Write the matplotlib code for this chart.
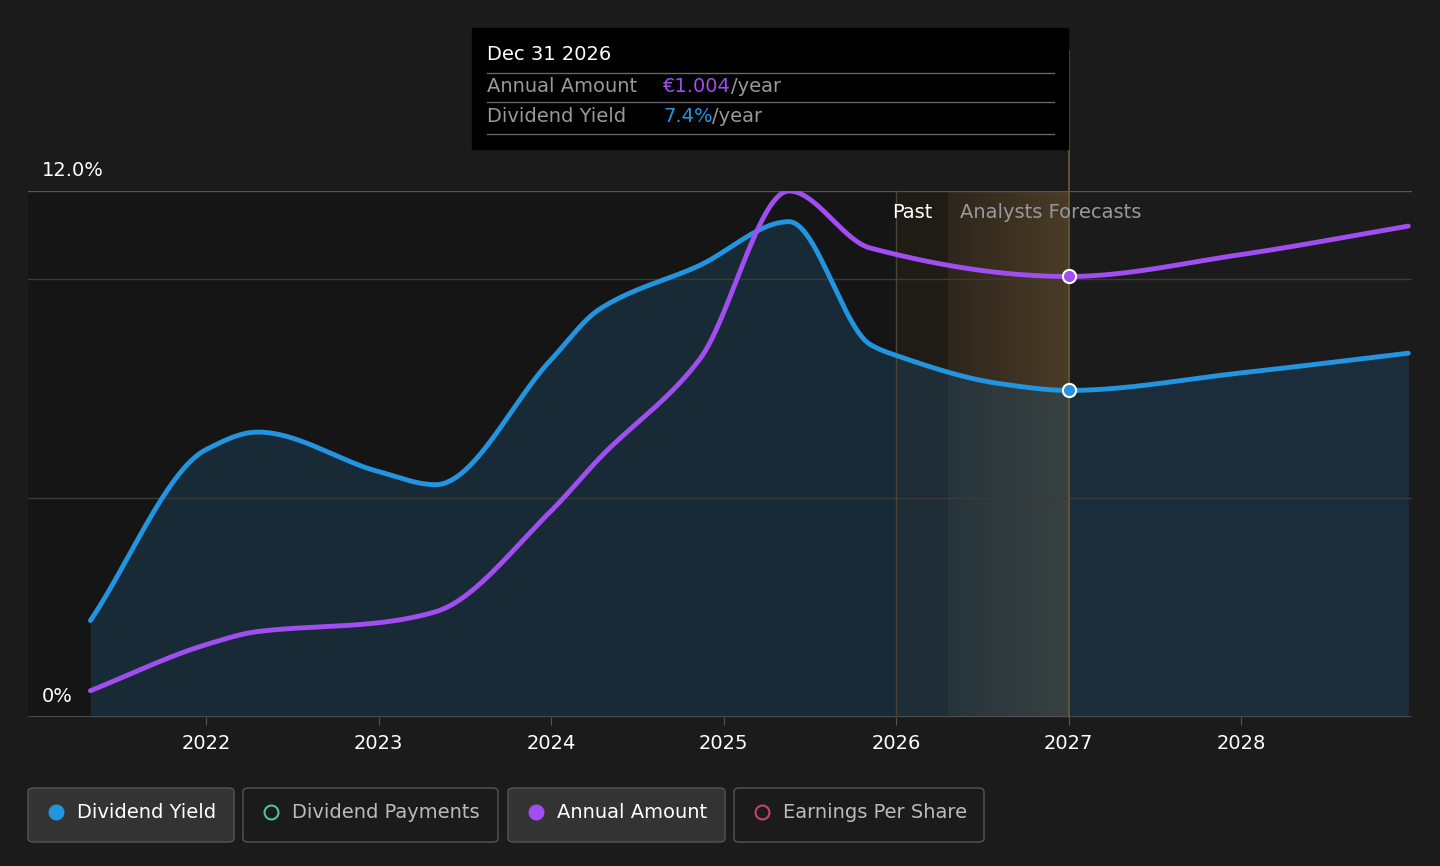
import matplotlib
matplotlib.use('Agg')
import matplotlib.pyplot as plt
from matplotlib.patches import FancyBboxPatch
import numpy as np

# values (year, %)
yield_years = [2021.33, 2022.0, 2022.30, 2023.0, 2023.33, 2024.0, 2024.28, 2024.86, 2025.38, 2025.85, 2026.0, 2026.61, 2027.0, 2028.0, 2028.97]
yield_vals = [2.2, 6.1, 6.5, 5.6, 5.3, 8.15, 9.3, 10.3, 11.3, 8.5, 8.25, 7.6, 7.45, 7.85, 8.3]
amount_years = [2021.33, 2022.0, 2022.30, 2023.0, 2023.33, 2024.0, 2024.28, 2024.86, 2025.38, 2025.85, 2027.0, 2028.0, 2028.97]
amount_vals = [0.6, 1.65, 1.95, 2.15, 2.4, 4.7, 5.9, 8.15, 12.0, 10.7, 10.05, 10.55, 11.2]
year_ticks = [2022, 2023, 2024, 2025, 2026, 2027, 2028]

BG = '#1b1b1b'
BLUE = '#2394df'
PURPLE = '#a04ef0'


def smooth(xs, ys, n=60):
    # monotone cubic (Fritsch-Carlson) through the read points
    xs, ys = np.asarray(xs, float), np.asarray(ys, float)
    h = np.diff(xs)
    d = np.diff(ys) / h
    m = np.zeros_like(ys)
    m[0], m[-1] = d[0], d[-1]
    for i in range(1, len(xs) - 1):
        if d[i - 1] * d[i] > 0:
            w1, w2 = 2 * h[i] + h[i - 1], h[i] + 2 * h[i - 1]
            m[i] = (w1 + w2) / (w1 / d[i - 1] + w2 / d[i])
    ox, oy = [], []
    for i in range(len(xs) - 1):
        t = np.linspace(0, 1, n, endpoint=False)
        h00 = 2 * t**3 - 3 * t**2 + 1
        h10 = t**3 - 2 * t**2 + t
        h01 = -2 * t**3 + 3 * t**2
        h11 = t**3 - t**2
        ox.extend(xs[i] + t * h[i])
        oy.extend(h00 * ys[i] + h10 * h[i] * m[i] + h01 * ys[i + 1] + h11 * h[i] * m[i + 1])
    ox.append(xs[-1]); oy.append(ys[-1])
    return np.array(ox), np.array(oy)


fig = plt.figure(figsize=(14.4, 8.66), dpi=100, facecolor=BG)
x0 = 2022 - (206 - 28) / 172.5
x1 = 2022 + (1412 - 206) / 172.5
ax = fig.add_axes([28 / 1440, 1 - 717 / 866, 1384 / 1440, 526 / 866])
ax.set_facecolor(BG)
ax.set_xlim(x0, x1)
ax.set_ylim(0, 12)
for s in ax.spines.values():
    s.set_visible(False)
ax.axhline(0, color='#555555', lw=1.2)
for g in (5, 10, 12):
    ax.axhline(g, color='#3a3a3a' if g != 12 else '#555555', lw=1)

# past region darker, forecast band brown
ax.axvspan(x0, 2026, color='#151515', zorder=0)
ax.axvspan(2026, 2026.3, color='#1f1b15', zorder=0)
grad = np.linspace(0, 1, 100).reshape(1, -1)
ax.imshow(grad, extent=[2026.3, 2027, 0, 12], aspect='auto',
          cmap=matplotlib.colors.LinearSegmentedColormap.from_list('b', ['#2e261c', '#4a3c26']), zorder=0.5)
ax.plot([2026, 2026], [0, 12], color='#4a4438', lw=1)
ax.plot([2027, 2027], [0, 15.2], color='#6a5a3a', lw=1.2, clip_on=False)

bx, by = smooth(yield_years, yield_vals)
ax.fill_between(bx, 0, by, color='#1d4a6a', alpha=0.4, lw=0, zorder=1)
ax.plot(bx, by, color=BLUE, lw=3.5, zorder=3, solid_capstyle='round')
axx, ay = smooth(amount_years, amount_vals)
ax.plot(axx, ay, color=PURPLE, lw=3.5, zorder=3, solid_capstyle='round')
ax.scatter([2027], [7.45], s=90, color=BLUE, edgecolor='white', lw=1.5, zorder=5)
ax.scatter([2027], [10.05], s=90, color=PURPLE, edgecolor='white', lw=1.5, zorder=5)

ax.set_xticks(year_ticks)
ax.set_xticklabels([str(y) for y in year_ticks], color='white', fontsize=14)
ax.tick_params(axis='x', length=6, color='#555555', pad=6)
ax.set_yticks([])
ax.text(0.01, 12.25, '12.0%', color='white', fontsize=14, transform=ax.get_yaxis_transform(), va='bottom')
ax.text(0.01, 0.25, '0%', color='white', fontsize=14, transform=ax.get_yaxis_transform(), va='bottom')
ax.text(2025.98, 11.5, 'Past', color='white', fontsize=14, ha='left', va='center')
ax.text(2026.37, 11.5, 'Analysts Forecasts', color='#999999', fontsize=14, ha='left', va='center')

# tooltip
fig.patches.append(plt.Rectangle((472 / 1440, 1 - 149 / 866), 596 / 1440, 121 / 866, transform=fig.transFigure, color='black'))
fig.text(487 / 1440, 1 - 55 / 866, 'Dec 31 2026', color='white', fontsize=14, va='center')
for yy in (73, 102, 134):
    fig.lines.append(plt.Line2D([487 / 1440, 1054 / 1440], [1 - yy / 866] * 2, color='#666666', lw=1, transform=fig.transFigure))
fig.text(487 / 1440, 1 - 87 / 866, 'Annual Amount', color='#999999', fontsize=14, va='center')
fig.text(663 / 1440, 1 - 87 / 866, '€1.004', color=PURPLE, fontsize=14, va='center')
fig.text(731 / 1440, 1 - 87 / 866, '/year', color='#999999', fontsize=14, va='center')
fig.text(487 / 1440, 1 - 117 / 866, 'Dividend Yield', color='#999999', fontsize=14, va='center')
fig.text(663 / 1440, 1 - 117 / 866, '7.4%', color=BLUE, fontsize=14, va='center')
fig.text(712 / 1440, 1 - 117 / 866, '/year', color='#999999', fontsize=14, va='center')

# legend buttons
items = [('Dividend Yield', BLUE, True, 28, 234), ('Dividend Payments', '#4fc1a6', False, 243, 498),
         ('Annual Amount', PURPLE, True, 508, 725), ('Earnings Per Share', '#c0427a', False, 734, 984)]
for label, col, filled, l, r in items:
    fig.patches.append(FancyBboxPatch((l / 1440, 1 - 842 / 866), (r - l) / 1440, 54 / 866,
                                      boxstyle='round,pad=0,rounding_size=0.004', transform=fig.transFigure,
                                      facecolor='#333333' if filled else BG, edgecolor='#555555', lw=1))
    fig.lines.append(plt.Line2D([(l + 28) / 1440], [1 - 812 / 866], marker='o', ms=10,
                                color=col if filled else 'none', markeredgecolor=col, mew=1.5,
                                transform=fig.transFigure))
    fig.text((l + 49) / 1440, 1 - 812 / 866, label, color='white' if filled else '#bbbbbb', fontsize=14, va='center')

fig.savefig('out.png', facecolor=BG)
